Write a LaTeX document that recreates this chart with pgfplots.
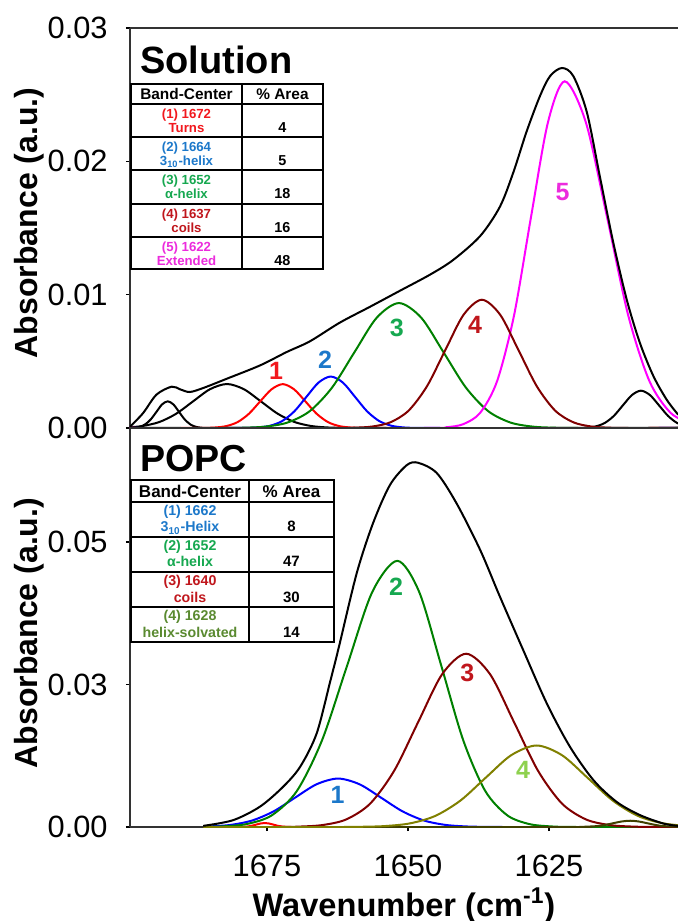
\documentclass[border=0pt]{standalone}
\usepackage{fontspec}
\setmainfont{Liberation Sans}
\usepackage{pgfplots}
\pgfplotsset{compat=1.18}

% line colours
\definecolor{cRed}{HTML}{FF0000}
\definecolor{cBlue}{HTML}{0000FF}
\definecolor{cGreen}{HTML}{008000}
\definecolor{cMaroon}{HTML}{800000}
\definecolor{cMag}{HTML}{FF00FF}
\definecolor{cOlive}{HTML}{808000}
\definecolor{cDkOlive}{HTML}{404000}
% text colours
\definecolor{tRed}{HTML}{F2181E}
\definecolor{tBlue}{HTML}{1C78CA}
\definecolor{tGreen}{HTML}{16A850}
\definecolor{tDkRed}{HTML}{C0161C}
\definecolor{tMag}{HTML}{EC2BDD}
\definecolor{tOlive}{HTML}{5A8A30}
\definecolor{tLime}{HTML}{8ED14E}

\pgfplotsset{
  panel/.style={
    scale only axis, width=274pt,
    x dir=reverse, xmin=1602.13, xmax=1699.29,
    axis x line=box, axis y line=left,
    x axis line style={-}, y axis line style={-},
    axis line style={line width=0.75pt, black!80},
    tick align=outside, xtick pos=bottom, ytick pos=left,
    major tick length=2pt, tick style={black, line width=0.6pt},
    scaled y ticks=false, scaled x ticks=false,
    ticklabel style={font=\fontsize{15.4}{18}\selectfont},
    yticklabel style={anchor=east, inner sep=0pt, xshift=-9pt},
    xticklabel style={anchor=north, inner sep=0pt, yshift=-12pt},
  },
  cv/.style={line width=1pt, smooth, mark=none},
}
\newcommand{\num}[1]{\fontsize{12.5}{14}\selectfont\bfseries #1}

\begin{document}
\begin{tikzpicture}

% ---------------- Solution ----------------
\begin{axis}[panel, height=200pt, at={(0,0)}, anchor=south west,
  ymin=0, ymax=0.03, ytick={0,0.01,0.02,0.03},
  yticklabels={0.00,0.01,0.02,0.03}, xtick=\empty]
\addplot[cv, black] coordinates {(1699.29,0.00001) (1698.6,0.000022) (1697.6,0.000088) (1696.6,0.00027) (1695.6,0.00065) (1694.6,0.00121) (1693.6,0.00177) (1692.6,0.0020) (1691.6,0.00177) (1690.6,0.00121) (1689.6,0.00065) (1688.6,0.00027) (1687.6,0.000088) (1686.6,0.000022) (1685.6,0.000004) (1680,0) (1602,0)};
\addplot[cv, black] coordinates {(1699.29,0.00006) (1697.1,0.000145) (1694.1,0.000446) (1691.1,0.00107) (1688.1,0.00200) (1685.1,0.00291) (1682.1,0.0033) (1679.1,0.00291) (1676.1,0.00200) (1673.1,0.00107) (1670.1,0.000446) (1667.1,0.000145) (1664.1,0.000037) (1661.1,0.000007) (1655,0) (1602,0)};
\addplot[cv, black] coordinates {(1699.29,0) (1623,0) (1619.9,0.0000062) (1618.3,0.000031) (1616.7,0.000123) (1615.1,0.000379) (1613.5,0.000909) (1611.9,0.00170) (1610.3,0.00247) (1608.7,0.0028) (1607.1,0.00247) (1605.5,0.00170) (1603.9,0.000909) (1602.3,0.000379) (1600.7,0.000123)};
\addplot[cv, cRed] coordinates {(1699.29,0) (1690,0) (1686.2,0.0000072) (1684.2,0.0000365) (1682.2,0.000144) (1680.2,0.000445) (1678.2,0.00107) (1676.2,0.00200) (1674.2,0.00290) (1672.2,0.00329) (1670.2,0.00290) (1668.2,0.00200) (1666.2,0.00107) (1664.2,0.000445) (1662.2,0.000144) (1660.2,0.0000365) (1658.2,0.0000072) (1654,0) (1602,0)};
\addplot[cv, cBlue] coordinates {(1699.29,0) (1682,0) (1678.75,0.0000085) (1676.6,0.0000428) (1674.45,0.000169) (1672.3,0.000522) (1670.15,0.00125) (1668.0,0.00234) (1665.85,0.00341) (1663.7,0.00386) (1661.55,0.00341) (1659.4,0.00234) (1657.25,0.00125) (1655.1,0.000522) (1652.95,0.000169) (1650.8,0.0000428) (1648.65,0.0000085) (1645,0) (1602,0)};
\addplot[cv, cGreen] coordinates {(1699.29,0) (1683,0) (1679.25,0.0000206) (1675.3,0.000104) (1671.35,0.000411) (1667.4,0.00127) (1663.45,0.00304) (1659.5,0.00568) (1655.55,0.00827) (1651.6,0.00937) (1647.65,0.00827) (1643.7,0.00568) (1639.75,0.00304) (1635.8,0.00127) (1631.85,0.000411) (1627.9,0.000104) (1623.95,0.0000206) (1620,0) (1602,0)};
\addplot[cv, cMag] coordinates {(1699.29,0) (1647,0) (1643.2,0.0000572) (1640.2,0.000289) (1637.2,0.00114) (1634.2,0.00352) (1631.2,0.00844) (1628.2,0.0158) (1625.2,0.0229) (1622.2,0.0260) (1618.45,0.0229) (1614.7,0.0158) (1610.95,0.00844) (1607.2,0.00352) (1603.45,0.00114) (1599.7,0.000289)};
\addplot[cv, cMaroon] coordinates {(1699.29,0) (1663,0) (1659.65,0.0000212) (1656.4,0.000107) (1653.15,0.000422) (1649.9,0.00130) (1646.65,0.00312) (1643.4,0.00583) (1640.15,0.00849) (1636.9,0.00962) (1633.65,0.00849) (1630.4,0.00583) (1627.15,0.00312) (1623.9,0.00130) (1620.65,0.000422) (1617.4,0.000107) (1614.15,0.0000212) (1611,0) (1602,0)};
% measured envelope
\addplot[cv, black] coordinates {(1699.29,0.0001) (1697.0,0.0011) (1694.6,0.0025) (1691.9,0.0031) (1690.4,0.0029) (1688.7,0.0027) (1686.3,0.0030) (1682.1,0.0037) (1676.2,0.0047) (1671.5,0.0057) (1667.4,0.0065) (1662.1,0.0079) (1656.7,0.0091) (1651.4,0.0103) (1646.1,0.0115) (1642.0,0.0126) (1637.2,0.0144) (1633.7,0.0166) (1631.3,0.0192) (1629.0,0.0222) (1626.6,0.0249) (1624.8,0.0264) (1622.7,0.0270) (1620.7,0.0264) (1618.3,0.0237) (1616.0,0.0189) (1613.6,0.0139) (1611.2,0.0096) (1608.9,0.0064) (1606.5,0.0039) (1604.1,0.0021) (1602.1,0.0010)};
\node[text=tRed] at (axis cs:1673.4,0.0043) {\num{1}};
\node[text=tBlue] at (axis cs:1664.7,0.0051) {\num{2}};
\node[text=tGreen] at (axis cs:1652.0,0.0075) {\num{3}};
\node[text=tDkRed] at (axis cs:1638.1,0.0077) {\num{4}};
\node[text=tMag] at (axis cs:1622.6,0.0177) {\num{5}};
\end{axis}

% ---------------- POPC ----------------
\begin{axis}[panel, height=199.5pt, at={(0,-199.5pt)}, anchor=south west,
  ymin=0, ymax=0.07, ytick={0,0.025,0.05},
  yticklabels={0.00,0.03,0.05},
  xtick={1625,1650,1675}, xticklabels={1625,1650,1675}]
\addplot[cv, cRed] coordinates {(1686.3,0) (1682,0) (1679.9,0.0000078) (1678.4,0.0000947) (1677.65,0.000227) (1676.9,0.000425) (1676.15,0.000618) (1675.4,0.0007) (1674.65,0.000618) (1673.9,0.000425) (1673.15,0.000227) (1672.4,0.0000947) (1670.9,0.0000078) (1667,0) (1602,0)};
\addplot[cv, cBlue] coordinates {(1686.3,0.000061) (1685.2,0.0000944) (1681.4,0.000373) (1677.6,0.00115) (1673.8,0.00276) (1670.0,0.00516) (1666.2,0.00750) (1662.4,0.0085) (1658.6,0.00750) (1654.8,0.00516) (1651.0,0.00276) (1647.2,0.00115) (1643.4,0.000373) (1639.6,0.0000944) (1635.8,0.0000187) (1632,0) (1602,0)};
\addplot[cv, cGreen] coordinates {(1686.3,0.000026) (1683.05,0.000103) (1678.6,0.000518) (1674.15,0.00205) (1669.7,0.00632) (1665.25,0.0152) (1660.8,0.0283) (1656.35,0.0412) (1651.9,0.0467) (1648.0,0.0412) (1644.1,0.0283) (1640.2,0.0152) (1636.3,0.00632) (1632.4,0.00205) (1628.5,0.000518) (1624.6,0.000103) (1620,0) (1602,0)};
\addplot[cv, cMaroon] coordinates {(1686.3,0) (1673,0) (1669.45,0.0000669) (1665.2,0.000337) (1660.95,0.00133) (1656.7,0.00411) (1652.45,0.00987) (1648.2,0.0184) (1643.95,0.0268) (1639.7,0.0304) (1635.45,0.0268) (1631.2,0.0184) (1626.95,0.00987) (1622.7,0.00411) (1618.45,0.00133) (1614.2,0.000337) (1609.95,0.0000669) (1606,0) (1602,0)};
\addplot[cv, cDkOlive] coordinates {(1686.3,0) (1622,0) (1619.6,0.0000122) (1616.6,0.000149) (1615.1,0.000357) (1613.6,0.000667) (1612.1,0.000971) (1610.6,0.0011) (1609.1,0.000971) (1607.6,0.000667) (1606.1,0.000357) (1604.6,0.000149) (1601.6,0.0000122)};
\addplot[cv, cOlive] coordinates {(1686.3,0) (1662,0) (1658.7,0.0000315) (1654.2,0.000159) (1649.7,0.000628) (1645.2,0.00193) (1640.7,0.00464) (1636.2,0.00867) (1631.7,0.0126) (1627.2,0.0143) (1622.7,0.0126) (1618.2,0.00867) (1613.7,0.00464) (1609.2,0.00193) (1604.7,0.000628) (1600.2,0.000159)};
% measured envelope
\addplot[cv, black] coordinates {(1686.3,0.0002) (1681.0,0.0012) (1676.2,0.0036) (1672.1,0.0071) (1669.1,0.0106) (1666.2,0.0164) (1663.8,0.0255) (1662.2,0.0318) (1659.1,0.0445) (1656.2,0.0533) (1653.2,0.0600) (1650.2,0.0635) (1648.2,0.0639) (1644.9,0.0621) (1641.4,0.0568) (1637.2,0.0486) (1633.7,0.0404) (1629.6,0.0311) (1625.4,0.0217) (1621.3,0.0141) (1617.1,0.0082) (1613.0,0.0044) (1608.9,0.0021) (1604.7,0.0006) (1602.1,0.0002)};
\node[text=tBlue] at (axis cs:1662.5,0.0056) {\num{1}};
\node[text=tGreen] at (axis cs:1652.1,0.0422) {\num{2}};
\node[text=tDkRed] at (axis cs:1639.5,0.0270) {\num{3}};
\node[text=tLime] at (axis cs:1629.6,0.0100) {\num{4}};
\end{axis}

% ------------- labels and tables, in pixel units of the reference -------------
\begin{scope}[shift={(-65pt,214pt)}, x=0.5pt, y=-0.5pt]
  \node[rotate=90, anchor=base, inner sep=0pt, font=\fontsize{16}{19}\selectfont\bfseries] at (38,223) {Absorbance (a.u.)};
  \node[rotate=90, anchor=base, inner sep=0pt, font=\fontsize{16}{19}\selectfont\bfseries] at (38,633) {Absorbance (a.u.)};
  \node[anchor=base, inner sep=0pt, font=\fontsize{16.3}{19}\selectfont\bfseries] at (404,916) {Wavenumber (cm\textsuperscript{-1})};

  \node[anchor=base west, inner sep=0pt, font=\fontsize{19}{22}\selectfont\bfseries] at (140,74) {Solution};
  \node[anchor=base west, inner sep=0pt, font=\fontsize{18.8}{22}\selectfont\bfseries] at (140,472) {POPC};

  % Solution table
  \draw[line width=1pt, fill=white] (131,84) rectangle (323,269);
  \draw[line width=1pt] (242,84) -- (242,269);
  \foreach \y in {104,137,170,204,237} \draw[line width=1pt] (131,\y) -- (323,\y);
  \begin{scope}[every node/.style={anchor=base, inner sep=0pt}]
    \node[font=\fontsize{7.7}{9}\selectfont\bfseries] at (186.5,99.5) {Band-Center};
    \node[font=\fontsize{7.7}{9}\selectfont\bfseries] at (282.5,99.5) {\% Area};
    \foreach \t/\a/\b/\c/\n in {104/(1) 1672/Turns/tRed/4,
                                137/(2) 1664/3\textsubscript{10}-helix/tBlue/5,
                                170/(3) 1652/α-helix/tGreen/18,
                                204/(4) 1637/coils/tDkRed/16,
                                237/(5) 1622/Extended/tMag/48} {
      \node[font=\fontsize{6.6}{8}\selectfont\bfseries, text=\c] at (186.5,\t+14.5) {\a};
      \node[font=\fontsize{6.6}{8}\selectfont\bfseries, text=\c] at (186.5,\t+28.5) {\b};
      \node[font=\fontsize{7.2}{9}\selectfont\bfseries] at (282.5,\t+28.5) {\n};
    }
  \end{scope}

  % POPC table
  \draw[line width=1pt, fill=white] (131,480) rectangle (334,642);
  \draw[line width=1pt] (249,480) -- (249,642);
  \foreach \y in {502,537,572,607} \draw[line width=1pt] (131,\y) -- (334,\y);
  \begin{scope}[every node/.style={anchor=base, inner sep=0pt}]
    \node[font=\fontsize{8.5}{10}\selectfont\bfseries] at (190,497) {Band-Center};
    \node[font=\fontsize{8.5}{10}\selectfont\bfseries] at (291.5,497) {\% Area};
    \foreach \t/\a/\b/\c/\n in {502/(1) 1662/3\textsubscript{10}-Helix/tBlue/8,
                                537/(2) 1652/α-helix/tGreen/47,
                                572/(3) 1640/coils/tDkRed/30,
                                607/(4) 1628/helix-solvated/tOlive/14} {
      \node[font=\fontsize{7.1}{8.5}\selectfont\bfseries, text=\c] at (190,\t+13.5) {\a};
      \node[font=\fontsize{7.1}{8.5}\selectfont\bfseries, text=\c] at (190,\t+30) {\b};
      \node[font=\fontsize{7.5}{9}\selectfont\bfseries] at (291.5,\t+30) {\n};
    }
  \end{scope}
\end{scope}

\pgfresetboundingbox
\path[use as bounding box] (-65pt,214pt) rectangle (274pt,-246.5pt);
\end{tikzpicture}
\end{document}
